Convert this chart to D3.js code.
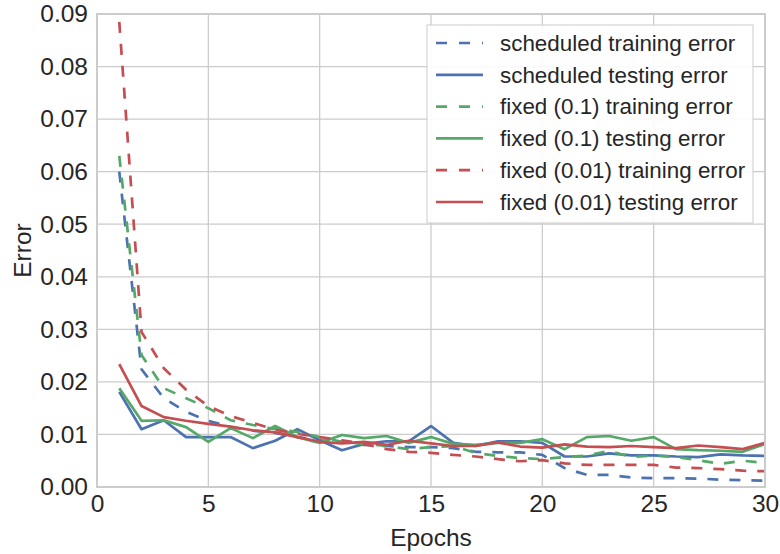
<!DOCTYPE html>
<html>
<head>
<meta charset="utf-8">
<script src="https://cdn.jsdelivr.net/npm/d3@7"></script>
<style>
  html, body { margin: 0; padding: 0; background: #fff; }
  svg { display: block; }
  text { font-family: "Liberation Sans", Arial, sans-serif; fill: #262626; }
</style>
</head>
<body>
<svg id="chart" width="780" height="554"></svg>
<script>
// Epoch index shared by every series
const epochs = d3.range(1, 31);

// Training / testing error per epoch
const schedTrain = [0.0600, 0.0224, 0.0169, 0.0143, 0.0126, 0.0114, 0.0107, 0.0103, 0.0095, 0.0089,
                    0.0086, 0.0080, 0.0078, 0.0076, 0.0076, 0.0074, 0.0067, 0.0066, 0.0066, 0.0061,
                    0.0036, 0.0023, 0.0023, 0.0018, 0.0017, 0.0017, 0.0016, 0.0014, 0.0013, 0.0012];
const schedTest  = [0.0181, 0.0110, 0.0127, 0.0095, 0.0095, 0.0095, 0.0074, 0.0088, 0.0110, 0.0089,
                    0.0070, 0.0082, 0.0087, 0.0087, 0.0116, 0.0084, 0.0078, 0.0087, 0.0087, 0.0084,
                    0.0058, 0.0058, 0.0064, 0.0060, 0.0060, 0.0058, 0.0057, 0.0062, 0.0060, 0.0059];
const fix1Train  = [0.0630, 0.0251, 0.0188, 0.0169, 0.0150, 0.0127, 0.0118, 0.0110, 0.0105, 0.0095,
                    0.0086, 0.0082, 0.0078, 0.0072, 0.0076, 0.0078, 0.0065, 0.0059, 0.0055, 0.0053,
                    0.0057, 0.0060, 0.0069, 0.0057, 0.0060, 0.0057, 0.0051, 0.0044, 0.0050, 0.0046];
const fix1Test   = [0.0188, 0.0126, 0.0127, 0.0114, 0.0086, 0.0112, 0.0093, 0.0116, 0.0095, 0.0084,
                    0.0099, 0.0093, 0.0097, 0.0084, 0.0095, 0.0082, 0.0080, 0.0084, 0.0084, 0.0091,
                    0.0072, 0.0095, 0.0097, 0.0088, 0.0095, 0.0072, 0.0070, 0.0069, 0.0067, 0.0082];
const fix01Train = [0.0885, 0.0295, 0.0226, 0.0185, 0.0154, 0.0135, 0.0122, 0.0109, 0.0101, 0.0095,
                    0.0089, 0.0082, 0.0072, 0.0067, 0.0065, 0.0061, 0.0058, 0.0053, 0.0049, 0.0051,
                    0.0045, 0.0042, 0.0042, 0.0042, 0.0042, 0.0037, 0.0036, 0.0034, 0.0031, 0.0030];
const fix01Test  = [0.0234, 0.0154, 0.0133, 0.0126, 0.0120, 0.0115, 0.0108, 0.0104, 0.0095, 0.0086,
                    0.0083, 0.0086, 0.0080, 0.0088, 0.0083, 0.0078, 0.0078, 0.0085, 0.0077, 0.0075,
                    0.0081, 0.0077, 0.0076, 0.0078, 0.0076, 0.0074, 0.0079, 0.0076, 0.0072, 0.0084];

const seriesNames = ["scheduled training error", "scheduled testing error",
                     "fixed (0.1) training error", "fixed (0.1) testing error",
                     "fixed (0.01) training error", "fixed (0.01) testing error"];
const seriesValues = [schedTrain, schedTest, fix1Train, fix1Test, fix01Train, fix01Test];
const seriesColors = ["#4C72B0", "#4C72B0", "#55A868", "#55A868", "#C44E52", "#C44E52"];
const seriesDashed = [true, false, true, false, true, false];

const xTicks = [0, 5, 10, 15, 20, 25, 30];
const yTicks = [0, 0.01, 0.02, 0.03, 0.04, 0.05, 0.06, 0.07, 0.08, 0.09];

const margin = { left: 97, right: 15, top: 14, bottom: 67 };
const W = 780, H = 554;
const svg = d3.select("#chart");

const x = d3.scaleLinear().domain([0, 30]).range([margin.left, W - margin.right]);
const y = d3.scaleLinear().domain([0, 0.09]).range([H - margin.bottom, margin.top]);

const gridColor = "#cccccc";
const tickSize = 24.5;
const titleSize = 24.5;
const legendSize = 22.4;

// Grid lines
svg.append("g")
  .selectAll("line").data(xTicks).join("line")
  .attr("x1", d => x(d)).attr("x2", d => x(d))
  .attr("y1", y(0)).attr("y2", y(0.09))
  .attr("stroke", gridColor).attr("stroke-width", 1.3);
svg.append("g")
  .selectAll("line").data(yTicks).join("line")
  .attr("x1", x(0)).attr("x2", x(30))
  .attr("y1", d => y(d)).attr("y2", d => y(d))
  .attr("stroke", gridColor).attr("stroke-width", 1.3);

// Series lines
const line = d3.line().x((d, i) => x(epochs[i])).y(d => y(d));
const plot = svg.append("g");
seriesValues.forEach((vals, k) => {
  plot.append("path")
    .datum(vals)
    .attr("d", line)
    .attr("fill", "none")
    .attr("stroke", seriesColors[k])
    .attr("stroke-width", 2.7)
    .attr("stroke-linejoin", "round")
    .attr("stroke-dasharray", seriesDashed[k] ? "11,11" : null);
});

// Axes frame
svg.append("rect")
  .attr("x", x(0)).attr("y", y(0.09))
  .attr("width", x(30) - x(0)).attr("height", y(0) - y(0.09))
  .attr("fill", "none").attr("stroke", gridColor).attr("stroke-width", 2);

// Tick labels via d3 axes (no tick marks, no domain line)
const xAxis = d3.axisBottom(x).tickValues(xTicks).tickFormat(d3.format("d")).tickSize(0).tickPadding(8);
const gx = svg.append("g").attr("transform", `translate(0,${y(0)})`).call(xAxis);
gx.select(".domain").remove();
gx.selectAll("text").attr("font-size", tickSize).attr("font-family", null).attr("fill", "#262626");

const yAxis = d3.axisLeft(y).tickValues(yTicks).tickFormat(d3.format(".2f")).tickSize(0).tickPadding(9);
const gy = svg.append("g").attr("transform", `translate(${x(0)},0)`).call(yAxis);
gy.select(".domain").remove();
gy.selectAll("text").attr("font-size", tickSize).attr("font-family", null).attr("fill", "#262626");

// Axis titles
svg.append("text")
  .attr("x", (x(0) + x(30)) / 2).attr("y", 546)
  .attr("text-anchor", "middle").attr("font-size", titleSize)
  .text("Epochs");
svg.append("text")
  .attr("transform", `translate(31,${(y(0) + y(0.09)) / 2}) rotate(-90)`)
  .attr("text-anchor", "middle").attr("font-size", titleSize)
  .text("Error");

// Legend
const legend = svg.append("g").attr("transform", "translate(427,25)");
legend.append("rect")
  .attr("width", 326).attr("height", 198)
  .attr("fill", "#fff").attr("fill-opacity", 0.9)
  .attr("stroke", gridColor).attr("stroke-width", 1);
seriesNames.forEach((name, k) => {
  const cy = 18 + k * 31.8;
  legend.append("line")
    .attr("x1", 9).attr("x2", 56).attr("y1", cy).attr("y2", cy)
    .attr("stroke", seriesColors[k]).attr("stroke-width", 2.7)
    .attr("stroke-dasharray", seriesDashed[k] ? "11,12" : null);
  legend.append("text")
    .attr("x", 73).attr("y", cy).attr("dy", "0.35em")
    .attr("font-size", legendSize)
    .text(name);
});
</script>
</body>
</html>
